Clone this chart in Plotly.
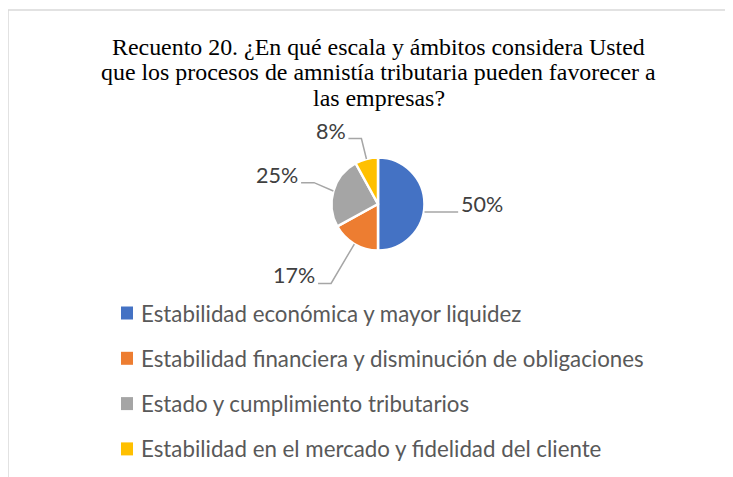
import math
import plotly.graph_objects as go

# ---------------- data ----------------
categories = [
    "Estabilidad económica y mayor liquidez",
    "Estabilidad financiera y disminución de obligaciones",
    "Estado y cumplimiento tributarios",
    "Estabilidad en el mercado y fidelidad del cliente",
]
percentages = [50, 17, 25, 8]
colors = ["#4472C4", "#ED7D31", "#A5A5A5", "#FFC000"]

title_lines = [
    "Recuento 20. ¿En qué escala y ámbitos considera Usted",
    "que los procesos de amnistía tributaria pueden favorecer a",
    "las empresas?",
]

# ---------------- layout settings ----------------
OFF = 8                      # browser body margin
W, H = 733 - OFF, 477 - OFF  # figure size so that it fits the window
CX, CY, R = 378, 204, 46.5   # pie centre / radius (page px)
label_nudge_deg = [0, -19, 0, 18]      # label angle adjustments
label_dist = [2.24, 2.37, 2.26, 1.87]  # label distance in radii
LABEL_FONT = "Lato"
TITLE_FONT = "Liberation Serif"


def px(x):
    return (x - OFF) / W


def py(y):
    return 1 - (y - OFF) / H


fig = go.Figure()
fig.add_trace(go.Pie(
    labels=categories,
    values=percentages,
    sort=False,
    direction="clockwise",
    rotation=0,
    marker=dict(colors=colors, line=dict(color="white", width=2.5)),
    textinfo="none",
    hoverinfo="label+percent",
    showlegend=False,
    domain=dict(x=[px(CX - R), px(CX + R)], y=[py(CY + R), py(CY - R)]),
))

shapes = []
annotations = []

# frame (cropped chart box)
shapes.append(dict(type="line", xref="paper", yref="paper",
                   x0=px(8), y0=py(10), x1=px(760), y1=py(10),
                   line=dict(color="#D9D9D9", width=1.5)))
shapes.append(dict(type="line", xref="paper", yref="paper",
                   x0=px(8), y0=py(10), x1=px(8), y1=py(500),
                   line=dict(color="#D9D9D9", width=1.5)))

# title, one annotation per line for exact line spacing
TITLE_Y0, TITLE_STEP = 47, 25.5
for i, line in enumerate(title_lines):
    annotations.append(dict(
        text=line, xref="paper", yref="paper",
        x=px(379), y=py(TITLE_Y0 + i * TITLE_STEP),
        xanchor="center", yanchor="middle", showarrow=False,
        font=dict(family=TITLE_FONT, size=23.9, color="#000000"),
    ))

# data labels with leader lines, computed from slice angles
total = sum(percentages)
cum = 0.0
for i, v in enumerate(percentages):
    frac = v / total
    start = 90 - 360 * cum
    mid = start - 180 * frac
    cum += frac
    a = math.radians(mid + label_nudge_deg[i])
    d = label_dist[i] * R
    lx = CX + d * math.cos(a)
    ly = CY - d * math.sin(a)
    text = f"{round(v / total * 100)}%"
    annotations.append(dict(
        text=text, xref="paper", yref="paper", x=px(lx), y=py(ly),
        xanchor="center", yanchor="middle", showarrow=False,
        font=dict(family=LABEL_FONT, size=21.5, color="#404040"),
    ))
    half_w = 7.0 * len(text)
    direction = 1 if math.cos(a) < 0 else -1
    sx = lx + direction * (half_w + 3)
    sy = ly + 8
    ex = sx + direction * 13
    mr = math.radians(mid)
    ox = CX + R * math.cos(mr)
    oy = CY - R * math.sin(mr)
    if abs(math.cos(a)) > 0.99:      # label straight beside the slice
        oy = sy
        ex = ox
    path = (f"M {px(sx)} {py(sy)} L {px(ex)} {py(sy)} "
            f"L {px(ox)} {py(oy)}")
    shapes.append(dict(type="path", xref="paper", yref="paper", path=path,
                       line=dict(color="#A6A6A6", width=1.5)))

# legend (manual, to match spacing)
LEG_X, LEG_Y0, LEG_STEP = 121, 313, 45.3
for i, (cat, col) in enumerate(zip(categories, colors)):
    yc = LEG_Y0 + i * LEG_STEP
    shapes.append(dict(type="rect", xref="paper", yref="paper",
                       x0=px(LEG_X), x1=px(LEG_X + 12),
                       y0=py(yc - 6.5), y1=py(yc + 6.5),
                       fillcolor=col, line=dict(width=0)))
    annotations.append(dict(
        text=cat, xref="paper", yref="paper", x=px(LEG_X + 18), y=py(yc),
        xanchor="left", yanchor="middle", showarrow=False,
        font=dict(family=LABEL_FONT, size=22.3, color="#595959"),
    ))

fig.update_layout(
    width=W, height=H,
    margin=dict(l=0, r=0, t=0, b=0),
    paper_bgcolor="white", plot_bgcolor="white",
    shapes=shapes, annotations=annotations,
    showlegend=False,
)

fig.write_html("out.html")
